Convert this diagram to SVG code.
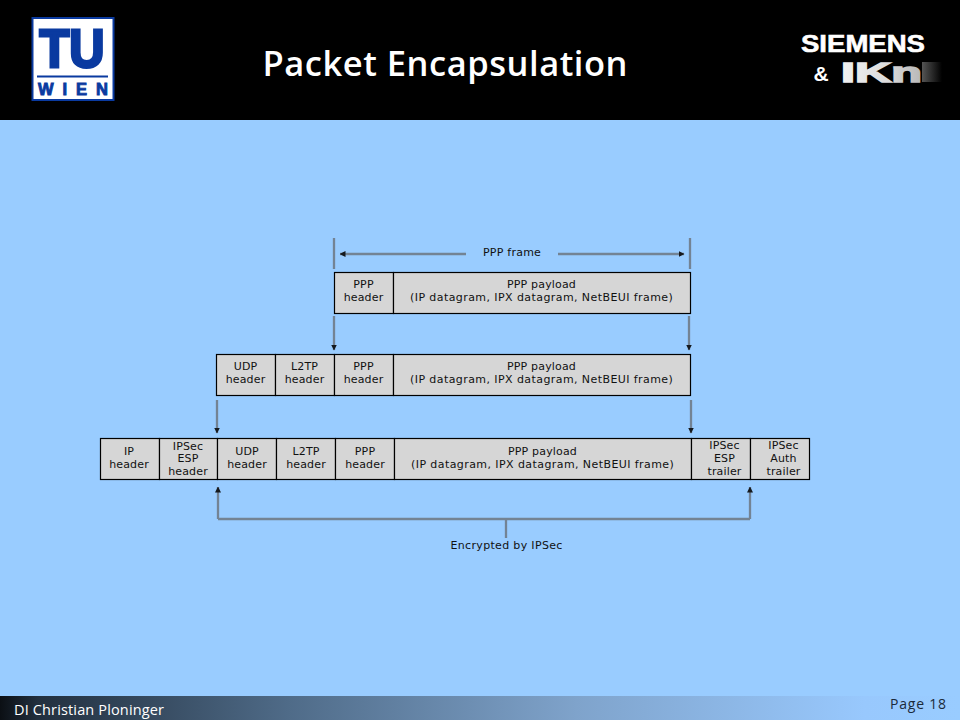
<svg xmlns="http://www.w3.org/2000/svg" width="960" height="720" viewBox="0 0 960 720">
<style>
.b{fill:#d6d6d6;stroke:#000;stroke-width:1.2}
.t{font-family:"DejaVu Sans",Verdana,sans-serif;font-size:11px;letter-spacing:.15px;fill:#111;text-anchor:middle}
.c{fill:none;stroke:#738394;stroke-width:2.3}
.s{font-family:"Open Sans",sans-serif}
.l{font-family:"Liberation Sans",sans-serif;font-weight:700}
</style>
<defs>
<marker id="a" viewBox="0 0 6 6" refX="5.5" refY="3" markerWidth="6" markerHeight="6" markerUnits="userSpaceOnUse" orient="auto"><path d="M0 0L6 3L0 6Z" fill="#15191e"/></marker>
<linearGradient id="f" x1="0" x2="1" y1="0" y2="0"><stop offset="0" stop-color="#0b0f14"/><stop offset=".04" stop-color="#22303f"/><stop offset=".3" stop-color="#4f6b88"/><stop offset=".6" stop-color="#7fa3cb"/><stop offset=".9" stop-color="#98c8fd"/><stop offset="1" stop-color="#99ccff"/></linearGradient>
<linearGradient id="ik" gradientUnits="userSpaceOnUse" x1="840" x2="925" y1="0" y2="0"><stop offset="0" stop-color="#f2f2f2"/><stop offset=".55" stop-color="#dcdcdc"/><stop offset="1" stop-color="#b4b4b4"/></linearGradient>
<linearGradient id="fd" x1="0" x2="1" y1="0" y2="0"><stop offset="0" stop-color="#555"/><stop offset="1" stop-color="#000"/></linearGradient>
</defs>
<rect width="960" height="720" fill="#99ccff"/>
<rect width="960" height="120" fill="#000"/>
<g id="logo-tu">
<rect x="32.5" y="18" width="81" height="82" fill="#fff" stroke="#0a3aa0" stroke-width="2"/>
<text class="l" x="72" y="67" font-size="53" fill="#0a3aa0" stroke="#0a3aa0" stroke-width="3" text-anchor="middle" textLength="65" lengthAdjust="spacingAndGlyphs">TU</text>
<rect x="37" y="75.500" width="71" height="2" fill="#0a3aa0"/>
<text class="l" x="73" y="95" font-size="16.500" fill="#0a3aa0" stroke="#0a3aa0" stroke-width=".9" text-anchor="middle" textLength="70">WIEN</text>
</g>
<text id="title" class="s" x="445" y="76" font-size="34.500" font-weight="600" fill="#fff" text-anchor="middle" textLength="365">Packet Encapsulation</text>
<g id="logo-siemens">
<text class="l" x="863" y="52" font-size="24" fill="#fff" text-anchor="middle" textLength="124" lengthAdjust="spacingAndGlyphs" stroke="#fff" stroke-width=".6">SIEMENS</text>
<text class="l" x="821" y="81" font-size="21" fill="#fff" text-anchor="middle">&amp;</text>
<rect x="922" y="62" width="20" height="20" fill="url(#fd)"/>
<text class="l" x="841" y="81.500" font-size="27" fill="url(#ik)" stroke="url(#ik)" stroke-width="1.500" textLength="81" lengthAdjust="spacingAndGlyphs">IKn</text>
</g>
<g id="connectors">
<path class="c" d="M334 238V269M690 238V269"/>
<path class="c" marker-end="url(#a)" d="M466 254H340"/>
<path class="c" marker-end="url(#a)" d="M558 254H684"/>
<path class="c" marker-end="url(#a)" d="M334 316V350"/>
<path class="c" marker-end="url(#a)" d="M689 316V350"/>
<path class="c" marker-end="url(#a)" d="M217 400V433"/>
<path class="c" marker-end="url(#a)" d="M691 400V433"/>
<path class="c" marker-end="url(#a)" d="M218 519V487"/>
<path class="c" marker-end="url(#a)" d="M750 519V487"/>
<path class="c" d="M218 519H750M506 519V538"/>
</g>
<text id="l-frame" class="t" x="512" y="256" textLength="58">PPP frame</text>
<text id="l-enc" class="t" x="506.500" y="549" textLength="112">Encrypted by IPSec</text>
<g id="n1-ppp-header"><rect class="b" x="334.500" y="272.500" width="59" height="41"/><text class="t" x="363.500" y="288">PPP</text><text class="t" x="363.500" y="301">header</text></g>
<g id="n1-payload"><rect class="b" x="393.500" y="272.500" width="297" height="41"/><text class="t" x="541.500" y="288" textLength="69">PPP payload</text><text class="t" x="541.500" y="301" textLength="263">(IP datagram, IPX datagram, NetBEUI frame)</text></g>
<g id="n2-udp"><rect class="b" x="216.500" y="354.500" width="59" height="41"/><text class="t" x="245.500" y="370">UDP</text><text class="t" x="245.500" y="383">header</text></g>
<g id="n2-l2tp"><rect class="b" x="275.500" y="354.500" width="59" height="41"/><text class="t" x="304.500" y="370">L2TP</text><text class="t" x="304.500" y="383">header</text></g>
<g id="n2-ppp"><rect class="b" x="334.500" y="354.500" width="59" height="41"/><text class="t" x="363.500" y="370">PPP</text><text class="t" x="363.500" y="383">header</text></g>
<g id="n2-payload"><rect class="b" x="393.500" y="354.500" width="297" height="41"/><text class="t" x="541.500" y="370" textLength="69">PPP payload</text><text class="t" x="541.500" y="383" textLength="263">(IP datagram, IPX datagram, NetBEUI frame)</text></g>
<g id="n3-ip"><rect class="b" x="100.500" y="438.500" width="59" height="41"/><text class="t" x="129" y="455">IP</text><text class="t" x="129" y="468">header</text></g>
<g id="n3-esp-h"><rect class="b" x="159.500" y="438.500" width="58" height="41"/><text class="t" x="188" y="450">IPSec</text><text class="t" x="188" y="462">ESP</text><text class="t" x="188" y="475">header</text></g>
<g id="n3-udp"><rect class="b" x="217.500" y="438.500" width="59" height="41"/><text class="t" x="247" y="455">UDP</text><text class="t" x="247" y="468">header</text></g>
<g id="n3-l2tp"><rect class="b" x="276.500" y="438.500" width="59" height="41"/><text class="t" x="306" y="455">L2TP</text><text class="t" x="306" y="468">header</text></g>
<g id="n3-ppp"><rect class="b" x="335.500" y="438.500" width="59" height="41"/><text class="t" x="365" y="455">PPP</text><text class="t" x="365" y="468">header</text></g>
<g id="n3-payload"><rect class="b" x="394.500" y="438.500" width="297" height="41"/><text class="t" x="542.500" y="455" textLength="69">PPP payload</text><text class="t" x="542.500" y="468" textLength="263">(IP datagram, IPX datagram, NetBEUI frame)</text></g>
<g id="n3-esp-t"><rect class="b" x="691.500" y="438.500" width="59" height="41"/><text class="t" x="724.500" y="449">IPSec</text><text class="t" x="724.500" y="462">ESP</text><text class="t" x="724.500" y="475">trailer</text></g>
<g id="n3-auth"><rect class="b" x="750.500" y="438.500" width="59" height="41"/><text class="t" x="783.500" y="449">IPSec</text><text class="t" x="783.500" y="462">Auth</text><text class="t" x="783.500" y="475">trailer</text></g>
<g id="footer">
<rect x="0" y="696" width="960" height="24" fill="url(#f)"/>
<text class="s" x="14" y="715" font-size="14.500" fill="#fff" textLength="150">DI Christian Ploninger</text>
<text class="s" x="946" y="709" font-size="14" fill="#1b2a3a" text-anchor="end" textLength="56">Page 18</text>
</g>
</svg>
